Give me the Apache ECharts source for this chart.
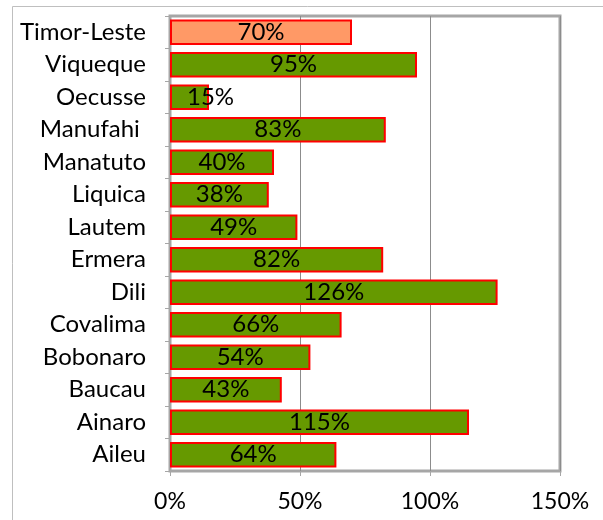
<!DOCTYPE html>
<html>
<head>
<meta charset="utf-8">
<script src="https://cdn.jsdelivr.net/npm/echarts@6/dist/echarts.min.js"></script>
<style>
  html, body { margin: 0; padding: 0; background: #fff; }
  #chart { width: 603px; height: 520px; }
</style>
</head>
<body>
<div id="chart"></div>
<script>
// districts, bottom to top as drawn
const districts = ['Aileu', 'Ainaro', 'Baucau', 'Bobonaro', 'Covalima', 'Dili', 'Ermera',
  'Lautem', 'Liquica', 'Manatuto', 'Manufahi ', 'Oecusse', 'Viqueque', 'Timor-Leste']
const values = [64, 115, 43, 54, 66, 126, 82, 49, 38, 40, 83, 15, 95, 70]
const xTicks = [0, 50, 100, 150]

var chartDom = document.getElementById('chart')
var myChart = echarts.init(chartDom)

const font = 'Lato, "Open Sans", sans-serif'

const barData = values.map((v, i) => {
  let item = { value: v }
  if (districts[i] === 'Timor-Leste') {
    item.itemStyle = { color: '#ff9966' }
  }
  if (districts[i] === 'Oecusse') {
    item.label = { offset: [21, 0] }
  }
  return item
})

var option = {
  animation: false,
  graphic: [
    {
      type: 'polyline',
      shape: { points: [[12.5, 520], [12.5, 6.5], [603, 6.5]] },
      style: { stroke: '#bfbfbf', lineWidth: 1, fill: null },
      z: -1
    }
  ],
  grid: {
    left: 170,
    right: 43,
    top: 16,
    bottom: 49,
    show: true,
    borderColor: '#a6a6a6',
    borderWidth: 3
  },
  xAxis: {
    type: 'value',
    min: xTicks[0],
    max: xTicks[xTicks.length - 1],
    interval: 50,
    axisLine: { show: true, lineStyle: { color: '#a6a6a6', width: 1 } },
    axisTick: { show: true, length: 5, lineStyle: { color: '#a6a6a6' } },
    splitLine: { show: true, lineStyle: { color: '#8c8c8c', width: 1 } },
    axisLabel: {
      formatter: '{value}%',
      color: '#000',
      fontSize: 23,
      fontFamily: font,
      margin: 19
    }
  },
  yAxis: {
    type: 'category',
    data: districts,
    axisLine: { show: true, lineStyle: { color: '#a6a6a6', width: 1 } },
    axisTick: { show: true, length: 5, lineStyle: { color: '#a6a6a6' } },
    axisLabel: {
      color: '#000',
      fontSize: 24,
      fontFamily: font,
      margin: 24
    }
  },
  series: [
    {
      type: 'bar',
      data: barData,
      barCategoryGap: '22%',
      itemStyle: {
        color: '#669900',
        borderColor: '#ff0000',
        borderWidth: 2
      },
      label: {
        show: true,
        position: 'inside',
        formatter: '{c}%',
        color: '#000',
        fontSize: 24,
        fontFamily: font
      }
    }
  ]
}
option && myChart.setOption(option)
</script>
</body>
</html>
